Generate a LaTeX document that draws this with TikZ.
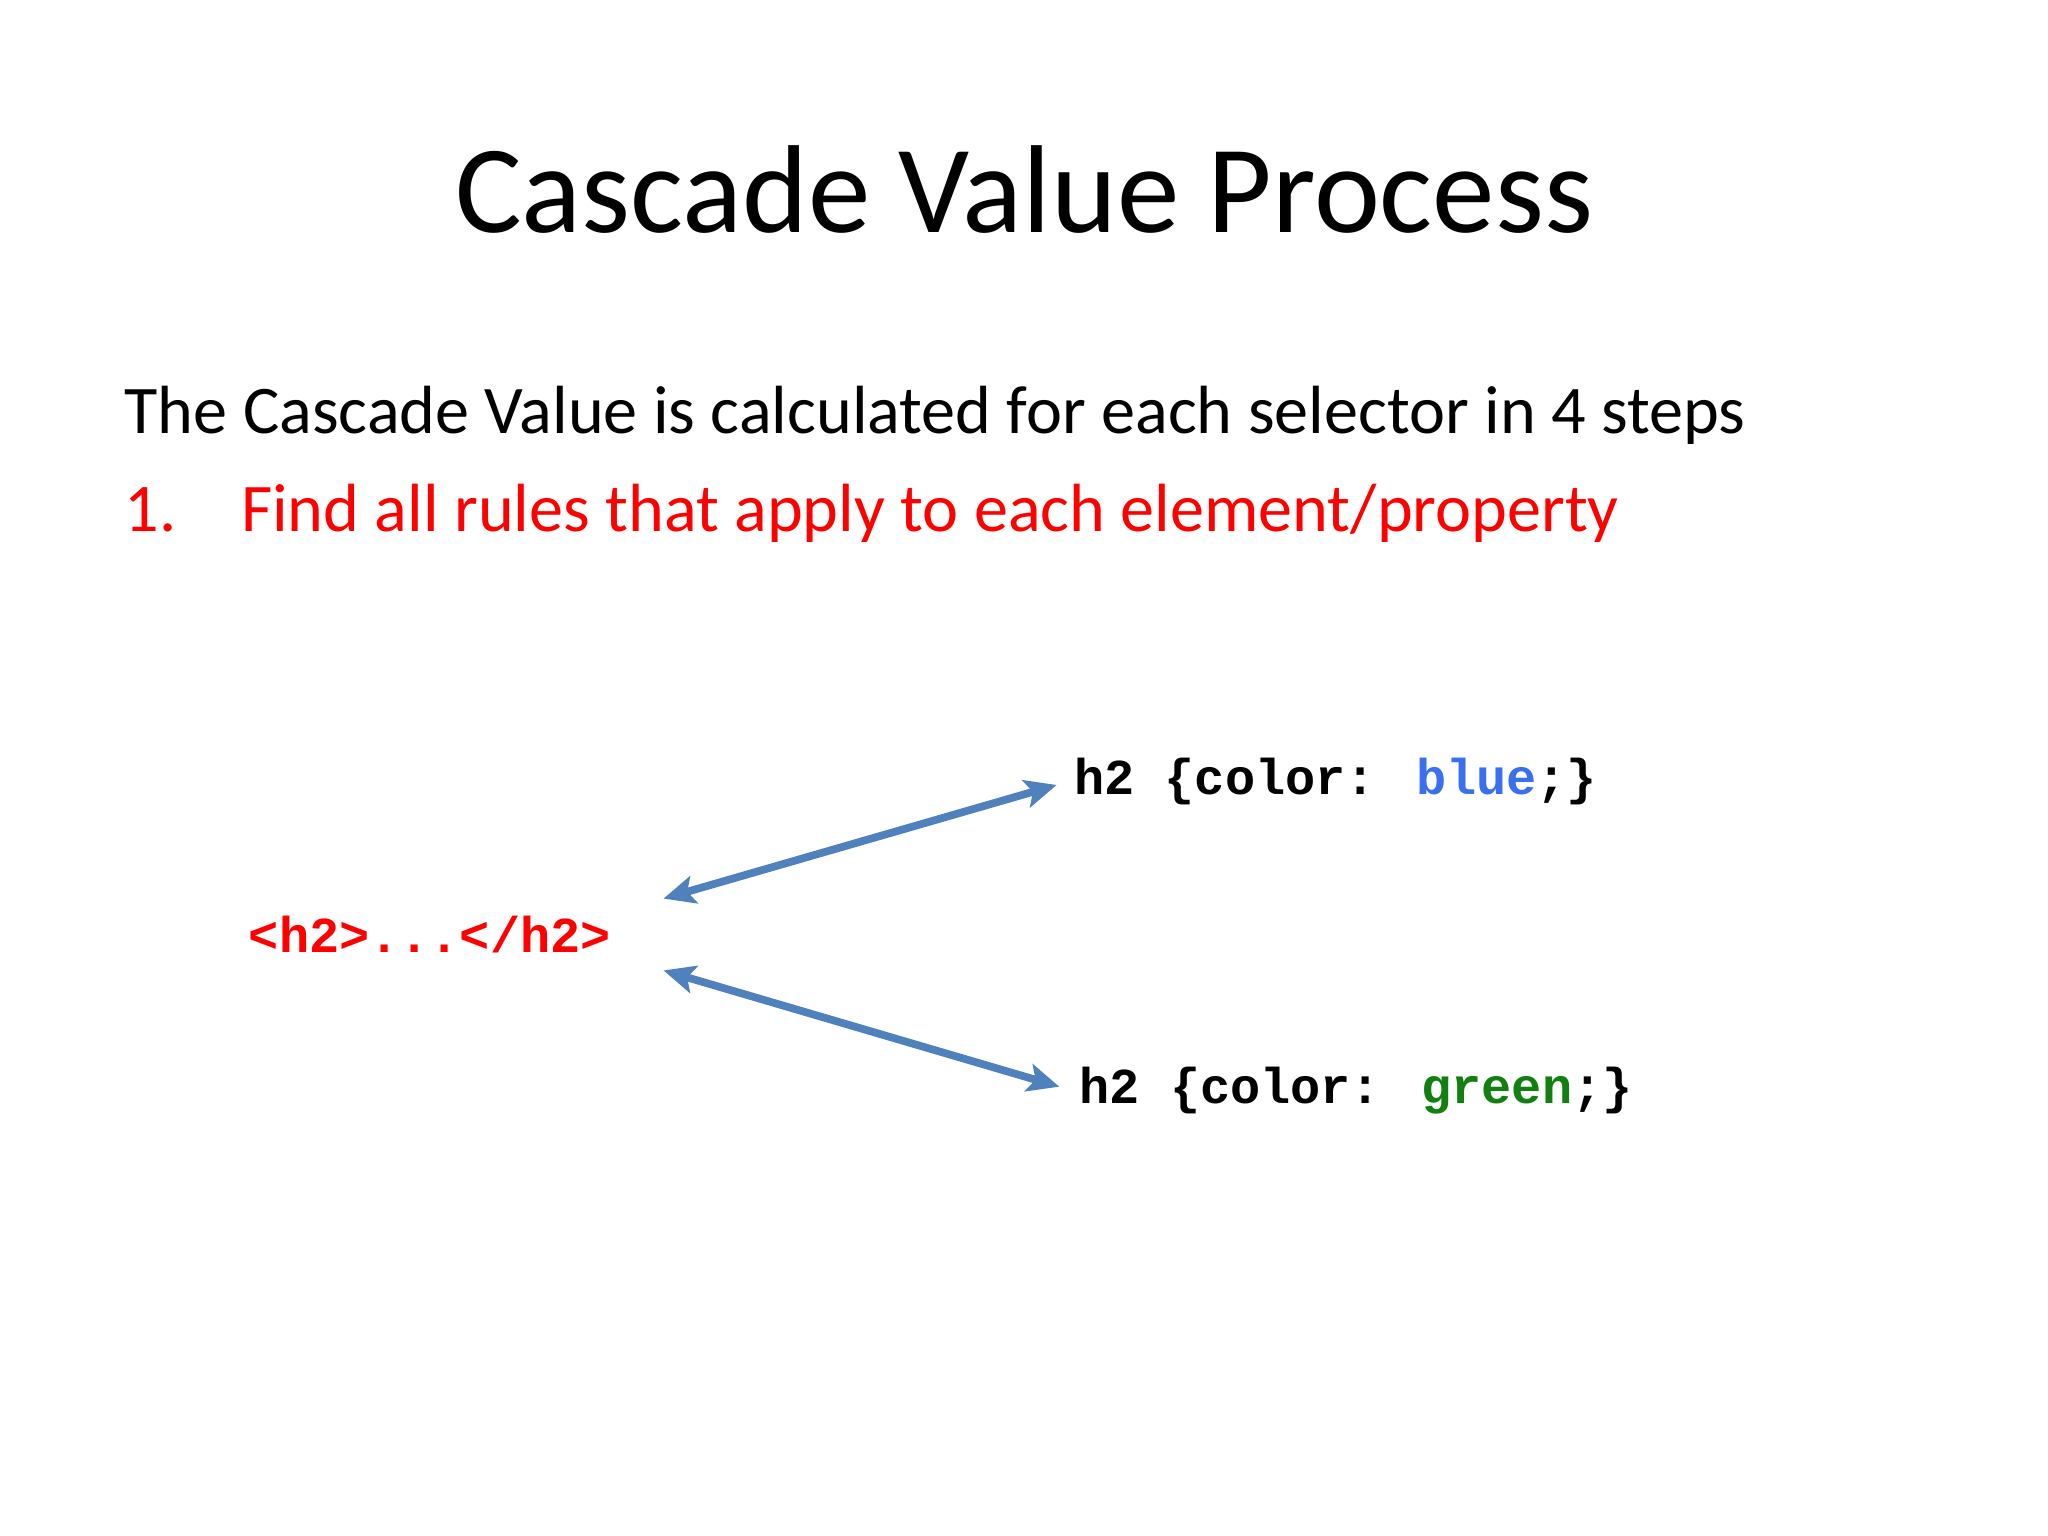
\documentclass[tikz,border=0pt]{standalone}
\usepackage{fontspec}
\setmainfont{Carlito}
\newfontfamily\codefont{Liberation Mono}
\usetikzlibrary{arrows.meta}
\definecolor{arrblue}{HTML}{4F81BD}
\definecolor{cblue}{HTML}{3A6FF0}
\definecolor{cgreen}{HTML}{118011}
\tikzset{
  code/.style={font=\codefont\bfseries\fontsize{14.3}{16}\selectfont, anchor=base west, inner sep=0pt},
  body/.style={font=\fontsize{19.4}{22}\selectfont, anchor=base west, inner sep=0pt},
  link/.style={arrblue, line width=2.2pt, {Stealth[length=9pt,width=8pt,inset=2pt]}-{Stealth[length=9pt,width=8pt,inset=2pt]}}
}
\begin{document}
\begin{tikzpicture}[x=0.01306cm,y=-0.01306cm]
\useasboundingbox (0,0) rectangle (1568,1176);
\node[font=\fontsize{35.6}{40}\selectfont, anchor=base] (title) at (784,178) {Cascade Value Process};
\node[body] (intro) at (95,332) {The Cascade Value is calculated for each selector in 4 steps};
\node[body, red] (n1) at (95,407) {1.};
\node[body, red] (step1) at (184,407) {Find all rules that apply to each element/property};
\node[code, red] (el) at (190,729) {<h2>...</h2>};
\node[code] (rb) at (822,608) {h2 \{color: \textcolor{cblue}{blue};\}};
\node[code] (rg) at (826,845) {h2 \{color: \textcolor{cgreen}{green};\}};
\coordinate (a1) at (508,688);
\coordinate (b1) at (809,601);
\coordinate (a2) at (508,743);
\coordinate (b2) at (811,832);
\draw[link] (a1) -- (b1);
\draw[link] (a2) -- (b2);
\end{tikzpicture}
\end{document}
